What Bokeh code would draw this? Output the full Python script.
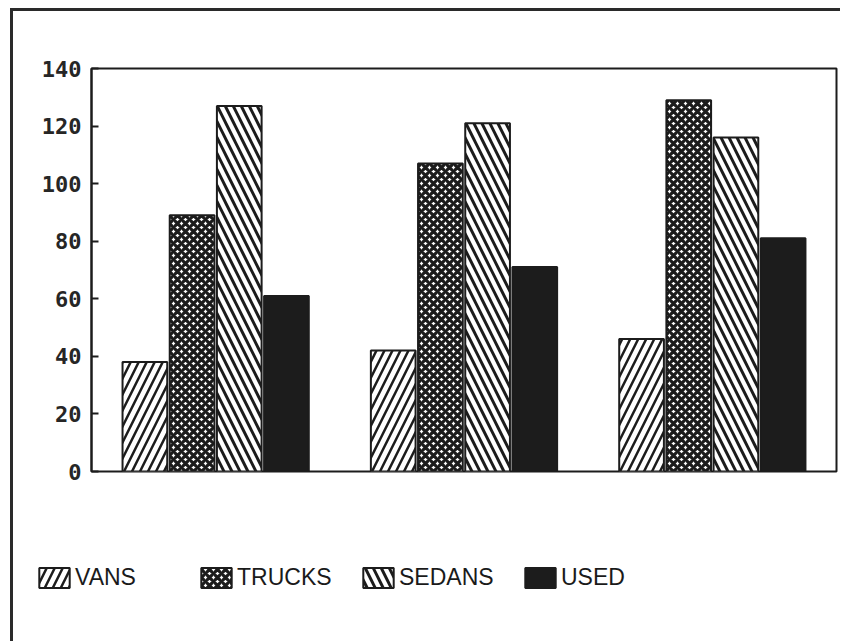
from bokeh.plotting import figure
from bokeh.layouts import column
from bokeh.models import ColumnDataSource, FactorRange, Range1d, Legend, LegendItem, FixedTicker
from bokeh.transform import dodge
from bokeh.embed import file_html
from bokeh.resources import INLINE

# ---- data ----
groups = ["A", "B", "C"]
series_names = ["VANS", "TRUCKS", "SEDANS", "USED"]
vans = [38, 42, 46]
trucks = [89, 107, 129]
sedans = [127, 121, 116]
used = [61, 71, 81]
y_ticks = [0, 20, 40, 60, 80, 100, 120, 140]

src = ColumnDataSource(dict(group=groups, vans=vans, trucks=trucks, sedans=sedans, used=used))

INK = "#1c1c1c"

# series styles (shared by bars and legend swatches)
styles = {
    "VANS": dict(fill_color="white", hatch_pattern="/", hatch_color=INK, hatch_weight=2.5, hatch_scale=16),
    "TRUCKS": dict(fill_color="white", hatch_pattern="x", hatch_color=INK, hatch_weight=3.2, hatch_scale=8),
    "SEDANS": dict(fill_color="white", hatch_pattern="\\", hatch_color=INK, hatch_weight=3, hatch_scale=16),
    "USED": dict(fill_color=INK),
}
cols = ["vans", "trucks", "sedans", "used"]
offsets = [-0.285, -0.095, 0.095, 0.285]
w = 0.18

p = figure(
    width=827, height=480,
    x_range=FactorRange(factors=groups, range_padding=0),
    y_range=Range1d(0, 140),
    output_backend="svg", toolbar_location=None,
    min_border_left=78, min_border_right=4, min_border_top=57, min_border_bottom=20,
)
p.frame_align = False
p.background_fill_color = "white"
p.border_fill_color = "white"
p.outline_line_color = INK
p.outline_line_width = 2
p.grid.visible = False
p.xaxis.visible = False

ya = p.yaxis[0]
ya.ticker = FixedTicker(ticks=y_ticks)
ya.major_tick_in = 7
ya.major_tick_out = 0
ya.minor_tick_line_color = None
ya.major_tick_line_color = INK
ya.major_tick_line_width = 2
ya.axis_line_color = INK
ya.axis_line_width = 2
ya.major_label_standoff = 10
ya.major_label_text_font = "DejaVu Sans Mono"
ya.major_label_text_font_style = "bold"
ya.major_label_text_font_size = "22px"
ya.major_label_text_color = "#262626"

for name, col, off in zip(series_names, cols, offsets):
    p.vbar(x=dodge("group", off, range=p.x_range), top=col, source=src, width=w,
           line_color=INK, line_width=2, **styles[name])

# legend strip: separate canvas so the legend is not clipped by the chart frame.
# Its renderers use the same data but are hidden, so only the legend swatches show.
lg = figure(
    width=827, height=150,
    x_range=FactorRange(factors=groups, range_padding=0), y_range=Range1d(-2, -1),
    output_backend="svg", toolbar_location=None,
    x_axis_location=None, y_axis_location=None,
    min_border_left=0, min_border_right=0, min_border_top=0, min_border_bottom=0,
)
lg.frame_align = False
lg.outline_line_color = None
lg.grid.visible = False
lg.background_fill_color = "white"
lg.border_fill_color = "white"

items = []
for name, col, off in zip(series_names, cols, offsets):
    r = lg.vbar(x=dodge("group", off, range=lg.x_range), top=col, source=src, width=w,
                line_color=INK, line_width=2, **styles[name])
    r.visible = False
    items.append(LegendItem(label=name, renderers=[r]))

legend = Legend(
    items=items,
    orientation="horizontal",
    location=(22, 50),
    glyph_width=38, glyph_height=25,
    label_standoff=2, label_width=122, label_height=25,
    spacing=0, padding=0, margin=0,
    border_line_alpha=0, background_fill_alpha=0,
    inactive_fill_alpha=0,
    label_text_font="Liberation Sans", label_text_font_size="23px",
    label_text_color="#1a1a1a",
)
lg.add_layout(legend, "center")

layout = column(p, lg, spacing=0,
                styles={"border-left": "3px solid #2a2a2a", "border-top": "3px solid #2a2a2a",
                        "margin-left": "10px", "margin-top": "8px"})

open("out.html", "w").write(file_html(layout, INLINE))
